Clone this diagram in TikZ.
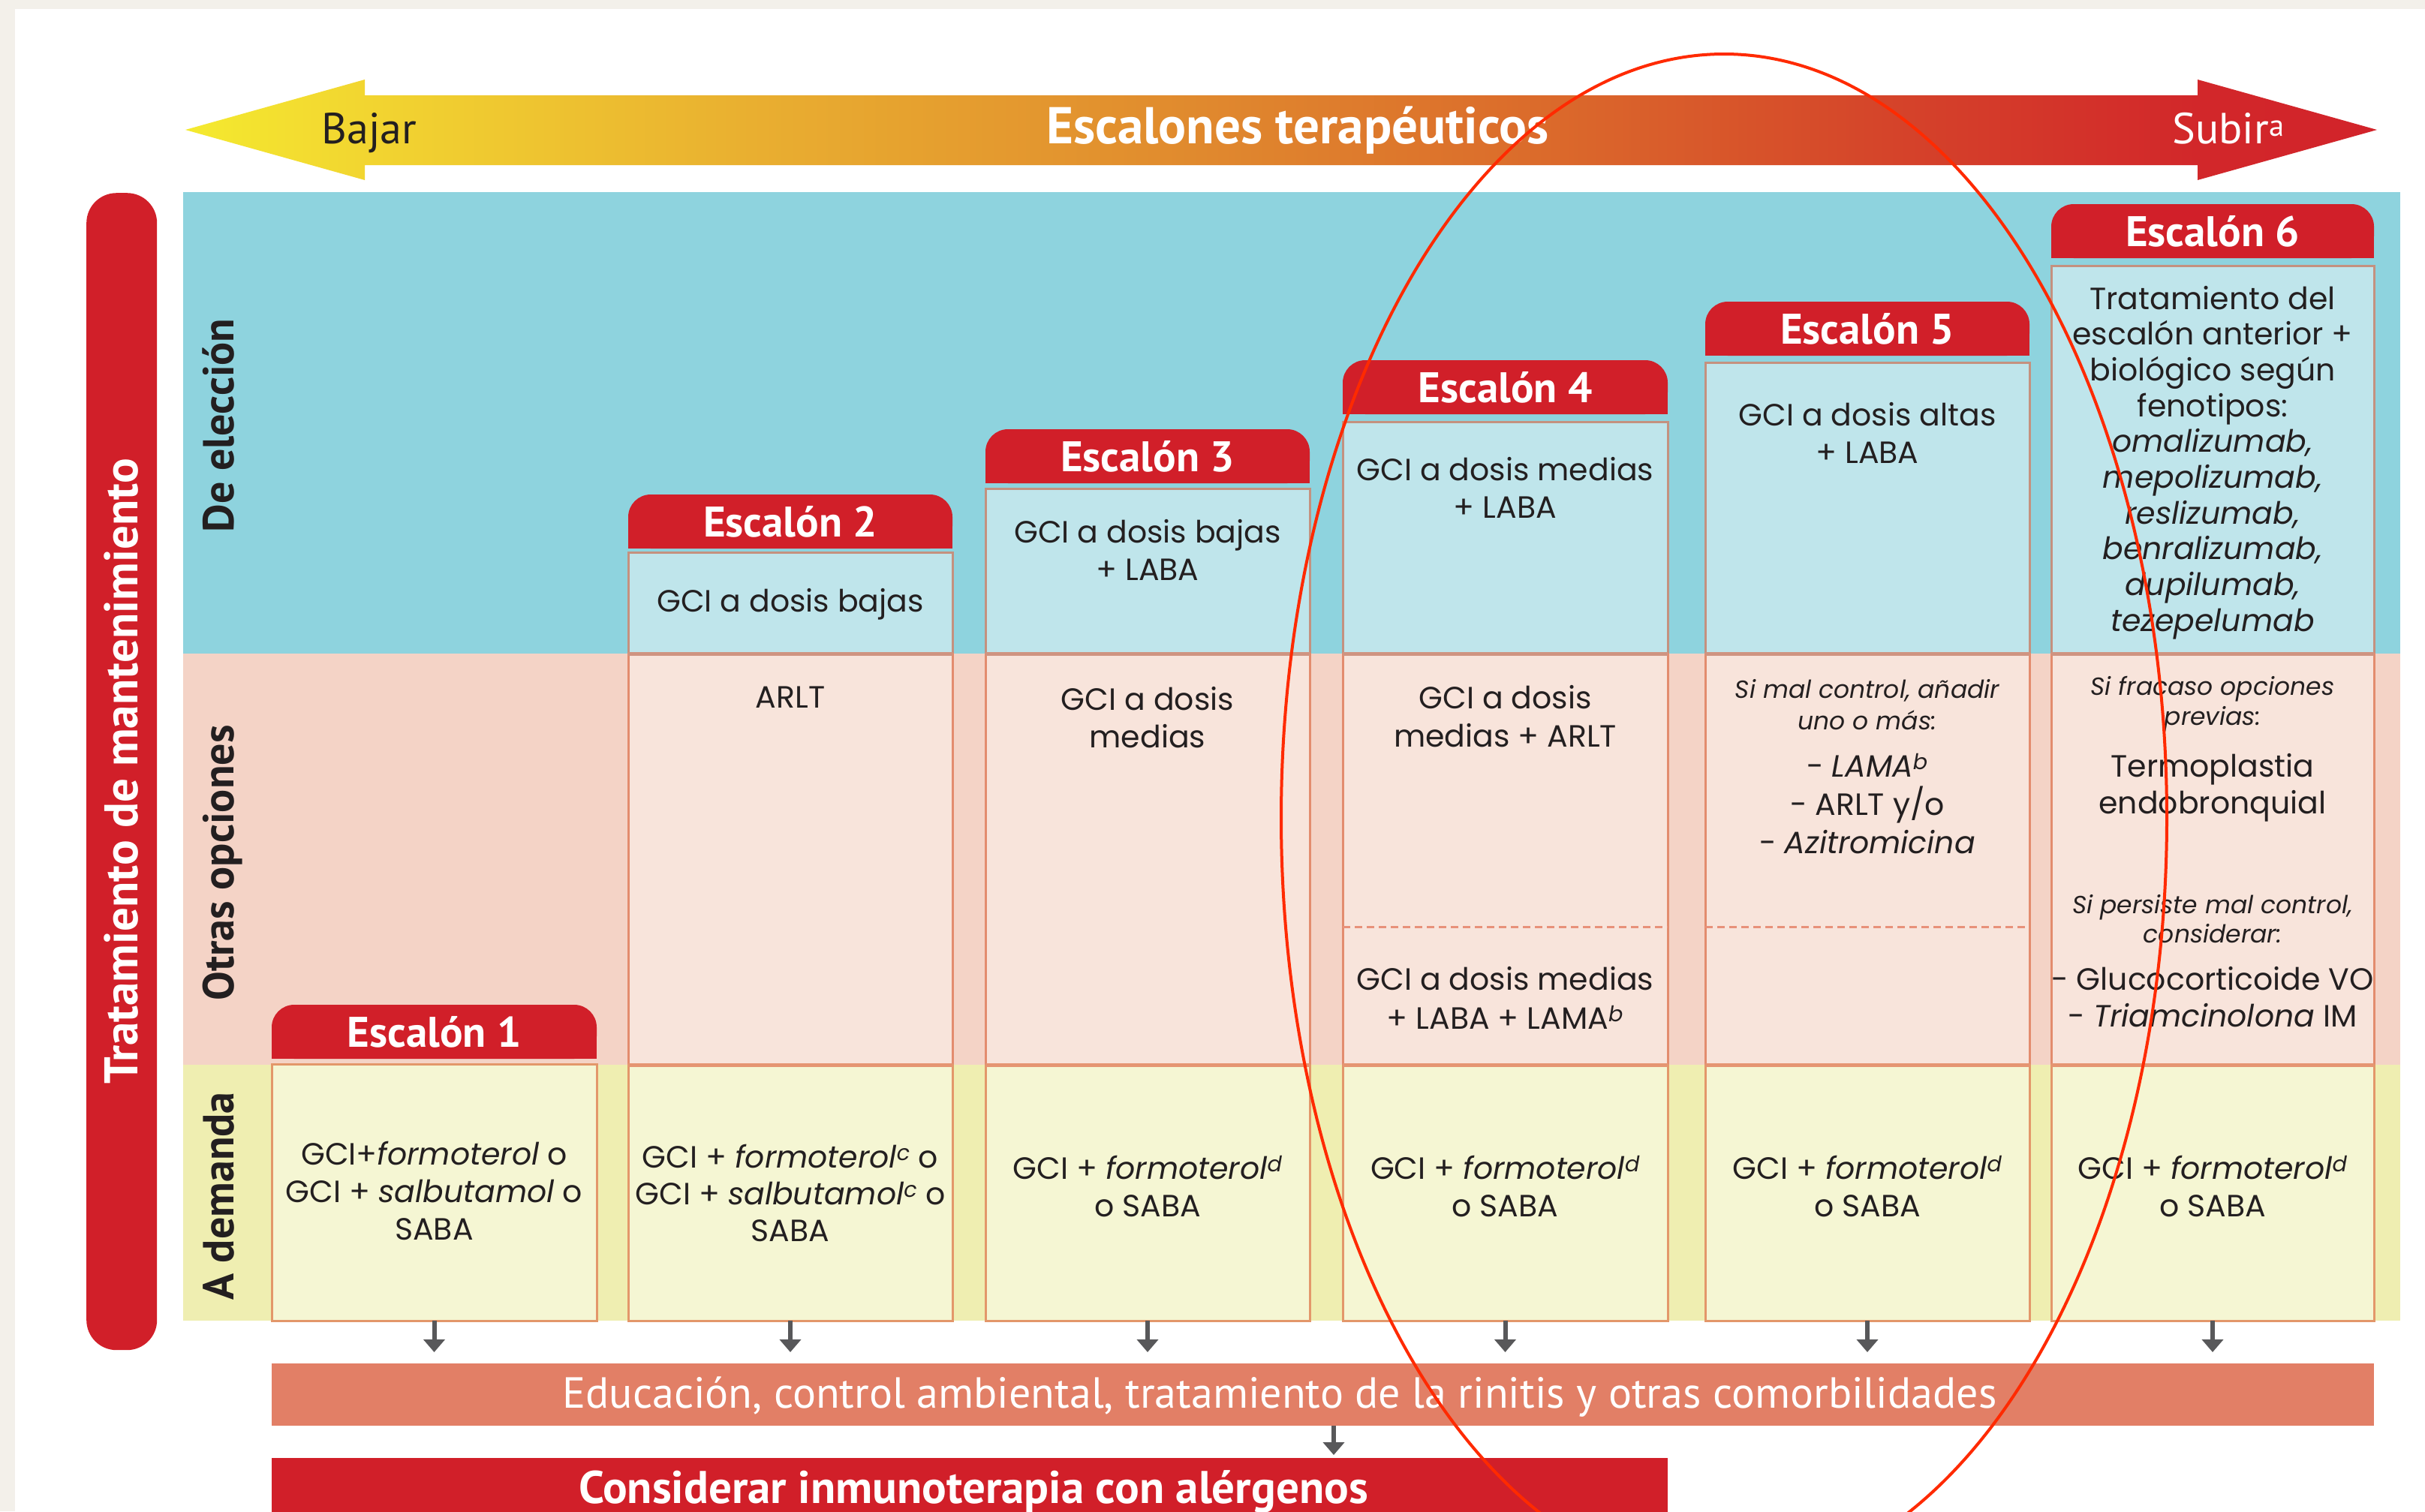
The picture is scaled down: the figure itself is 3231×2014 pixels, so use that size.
\documentclass[tikz,border=0pt]{standalone}
\usepackage{fontspec}
\setmainfont{Poppins}
\newfontfamily\lbl{PT Sans}
\usetikzlibrary{arrows.meta}
\definecolor{cream}{HTML}{F3F0EA}
\definecolor{bandC}{HTML}{8ED3DE}
\definecolor{boxC}{HTML}{BFE5EB}
\definecolor{bandP}{HTML}{F4D3C6}
\definecolor{boxP}{HTML}{F8E4DB}
\definecolor{bandY}{HTML}{EFEEB1}
\definecolor{boxY}{HTML}{F5F6D3}
\definecolor{brdC}{HTML}{C4917F}
\definecolor{brdP}{HTML}{E38C6E}
\definecolor{brdY}{HTML}{E3976A}
\definecolor{sepC}{HTML}{CF9481}
\definecolor{sepY}{HTML}{E59572}
\definecolor{hred}{HTML}{D11F29}
\definecolor{edu}{HTML}{E27F66}
\definecolor{txt}{HTML}{231F20}
\definecolor{arrg}{HTML}{58585A}
\definecolor{ell}{HTML}{FF2A00}
\definecolor{dash}{HTML}{E8917A}
\definecolor{g0}{HTML}{F4EA2F}
\definecolor{g1}{HTML}{F2D530}
\definecolor{g2}{HTML}{E9AF30}
\definecolor{g3}{HTML}{E0892E}
\definecolor{g4}{HTML}{DB6A2B}
\definecolor{g5}{HTML}{D5452A}
\definecolor{g6}{HTML}{D2272A}
\definecolor{g7}{HTML}{D2232A}
\pgfdeclarehorizontalshading{escgrad}{100bp}{color(0bp)=(g0); color(25bp)=(g0); color(29.16bp)=(g1); color(37.9bp)=(g2); color(48.17bp)=(g3); color(56.04bp)=(g4); color(63.58bp)=(g5); color(70.9bp)=(g6); color(75bp)=(g7); color(100bp)=(g7)}
\newcommand\tlines[6][cell]{\foreach \lineT [count=\ii from 0] in {#6}{\node[#1] (#2-\ii) at (#3,{#4+\ii*#5}) {\lineT};}}
\begin{document}
\begin{tikzpicture}[x=1pt,y=-1pt,
  cell/.style={font=\fontsize{41}{50}\selectfont, text=txt, inner sep=0pt, anchor=base},
  small/.style={font=\fontsize{33}{40}\selectfont\itshape, text=txt, inner sep=0pt, anchor=base},
  hdr/.style={anchor=north west, minimum height=72pt, inner sep=0pt, outer sep=0pt, text=white,
    font=\lbl\bfseries\fontsize{57}{57}\selectfont, text height=40pt, text depth=0pt,
    path picture={\fill[hred, rounded corners=30pt] (path picture bounding box.south west) rectangle (path picture bounding box.north east);
      \fill[hred] (path picture bounding box.south west) rectangle ([yshift=36pt]path picture bounding box.south east);}},
  band/.style={anchor=north west, inner sep=0pt, outer sep=0pt, draw=none},
  bxC/.style={anchor=north west, draw=brdC, fill=boxC, line width=3pt, inner sep=0pt, outer sep=0pt},
  bxP/.style={anchor=north west, draw=brdP, fill=boxP, line width=3pt, inner sep=0pt, outer sep=0pt},
  bxY/.style={anchor=north west, draw=brdY, fill=boxY, line width=3pt, inner sep=0pt, outer sep=0pt},
  side/.style={rotate=90, anchor=base, inner sep=0pt, text=txt, font=\lbl\bfseries\fontsize{58}{58}\selectfont},
  garr/.style={draw=arrg, line width=6pt, -{Triangle[width=28pt,length=17pt]}},
  dline/.style={draw=dash, line width=3pt, dash pattern=on 10pt off 6pt}
]
\useasboundingbox (0,0) rectangle (3231,2014);
\clip (0,0) rectangle (3231,2014);
\fill[cream] (0,0) rectangle (3231,2014);
\fill[white] (20,12) rectangle (3231,2014);

% top arrow
\shade[shading=escgrad] (247,173) -- (486,106) -- (486,127) -- (2928,127) -- (2928,106) -- (3167,173) -- (2928,240) -- (2928,220) -- (486,220) -- (486,240) -- cycle;
\node[anchor=base, inner sep=0pt, text=txt, font=\lbl\fontsize{58}{58}\selectfont] (bajar) at (492,191) {Bajar};
\node[anchor=base, inner sep=0pt, text=white, font=\lbl\bfseries\fontsize{69}{69}\selectfont] (esc) at (1729,191) {Escalones terapéuticos};
\node[anchor=base, inner sep=0pt, text=white, font=\lbl\fontsize{58}{58}\selectfont] (subir) at (2969,191) {Subir\textsuperscript{a}};

% bands
\node[band, fill=bandC, minimum width=2954pt, minimum height=615pt] (bandc) at (244,256) {};
\node[band, fill=bandP, minimum width=2954pt, minimum height=548pt] (bandp) at (244,871) {};
\node[band, fill=bandY, minimum width=2954pt, minimum height=341pt] (bandy) at (244,1419) {};

% left pill
\node[fill=hred, rounded corners=40pt, minimum width=94pt, minimum height=1542pt, anchor=north west, inner sep=0pt] (pill) at (115,257) {};
\node[rotate=90, anchor=base, inner sep=0pt, text=white, font=\lbl\bfseries\fontsize{63}{63}\selectfont] (ptxt) at (183,1028) {Tratamiento de mantenimiento};

% side labels
\node[side] (lde) at (311,567) {De elección};
\node[side] (lot) at (311,1150) {Otras opciones};
\node[side] (lad) at (311,1594) {A demanda};

% column 1
\node[hdr, minimum width=433pt] (h1) at (362,1339) {Escalón 1};
\node[bxY, minimum width=433pt, minimum height=342pt] (y1) at (362,1418) {};

% columns 2-6
\foreach \nn/\xa/\ww/\hy/\cy in {2/837/432/659/736, 3/1313/432/572/651, 4/1789/433/480/562, 5/2272/432/402/483, 6/2733/430/272/354}{
  \node[hdr, minimum width=\ww pt] (h\nn) at (\xa,\hy) {Escalón \nn};
  \node[bxC, minimum width=\ww pt, minimum height={871pt-\cy pt}] (c\nn) at (\xa,\cy) {};
  \node[bxP, minimum width=\ww pt, minimum height=548pt] (p\nn) at (\xa,871) {};
  \node[bxY, minimum width=\ww pt, minimum height=341pt] (y\nn) at (\xa,1419) {};
  \draw[sepC, line width=5pt] (c\nn.south west) -- (c\nn.south east);
  \draw[sepY, line width=5pt] (p\nn.south west) -- (p\nn.south east);
}
\draw[dline] (p4.west |- 0,1235) -- (p4.east |- 0,1235);
\draw[dline] (p5.west |- 0,1235) -- (p5.east |- 0,1235);

% texts column 1
\tlines{t1y}{578.5}{1552}{50}{{GCI+\textit{formoterol} o},{GCI + \textit{salbutamol} o},{SABA}}
% column 2
\tlines{t2c}{1053}{815}{50}{{GCI a dosis bajas}}
\tlines{t2p}{1053}{943}{50}{{ARLT}}
\tlines{t2y}{1053}{1556}{49}{{GCI + \textit{formoterol}\textsuperscript{\itshape c} o},{GCI + \textit{salbutamol}\textsuperscript{\itshape c} o},{SABA}}
% column 3
\tlines{t3c}{1529}{723}{50}{{GCI a dosis bajas},{+ LABA}}
\tlines{t3p}{1529}{946}{50}{{GCI a dosis},{medias}}
\tlines{t3y}{1529}{1571}{50}{{GCI + \textit{formoterol}\textsuperscript{\itshape d}},{o SABA}}
% column 4
\tlines{t4c}{2005.5}{640}{50}{{GCI a dosis medias},{+ LABA}}
\tlines{t4p}{2005.5}{944}{51}{{GCI a dosis},{medias + ARLT}}
\tlines{t4q}{2005.5}{1319}{52}{{GCI a dosis medias},{+ LABA + LAMA\textsuperscript{\itshape b}}}
\tlines{t4y}{2005.5}{1571}{50}{{GCI + \textit{formoterol}\textsuperscript{\itshape d}},{o SABA}}
% column 5
\tlines{t5c}{2488}{567}{50}{{GCI a dosis altas},{+ LABA}}
\tlines[small]{t5s}{2488}{930}{42}{{Si mal control, añadir},{uno o más:}}
\tlines{t5p}{2488}{1035}{51}{{- \textit{LAMA}\textsuperscript{\itshape b}},{- ARLT y/o},{- \textit{Azitromicina}}}
\tlines{t5y}{2488}{1571}{50}{{GCI + \textit{formoterol}\textsuperscript{\itshape d}},{o SABA}}
% column 6
\tlines{t6c}{2948}{412}{47.7}{{Tratamiento del},{escalón anterior +},{biológico según},{fenotipos:},{\textit{omalizumab,}},{\textit{mepolizumab,}},{\textit{reslizumab,}},{\textit{benralizumab,}},{\textit{dupilumab,}},{\textit{tezepelumab}}}
\tlines[small]{t6s}{2948}{926}{40}{{Si fracaso opciones},{previas:}}
\tlines{t6p}{2948}{1035}{49}{{Termoplastia},{endobronquial}}
\tlines[small]{t6r}{2948}{1217}{39}{{Si persiste mal control,},{considerar:}}
\tlines{t6q}{2948}{1319}{49}{{- Glucocorticoide VO},{- \textit{Triamcinolona} IM}}
\tlines{t6y}{2948}{1571}{50}{{GCI + \textit{formoterol}\textsuperscript{\itshape d}},{o SABA}}

% bottom bars
\node[anchor=north west, fill=edu, minimum width=2801pt, minimum height=83pt, inner sep=0pt, outer sep=0pt] (edu) at (362,1817) {};
\node[anchor=base, inner sep=0pt, text=white, font=\lbl\fontsize{58}{58}\selectfont] (edutxt) at (1705,1876) {Educación, control ambiental, tratamiento de la rinitis y otras comorbilidades};
\node[anchor=north west, fill=hred, minimum width=1860pt, minimum height=100pt, inner sep=0pt, outer sep=0pt] (inm) at (362,1943) {};
\node[anchor=base, inner sep=0pt, text=white, font=\lbl\bfseries\fontsize{61}{61}\selectfont] (inmtxt) at (1297,2003) {Considerar inmunoterapia con alérgenos};

% arrows
\foreach \nn in {1,...,6}{
  \draw[garr, shorten >=15pt] (y\nn.south) -- (y\nn.south |- edu.north);
}
\coordinate (eduarr) at (1777,1900);
\draw[garr, shorten >=4pt] (eduarr) -- (eduarr |- inm.north);

% annotation ellipse
\draw[ell, line width=4pt] (2297,1090) ellipse [x radius=590, y radius=1018];
\end{tikzpicture}
\end{document}
